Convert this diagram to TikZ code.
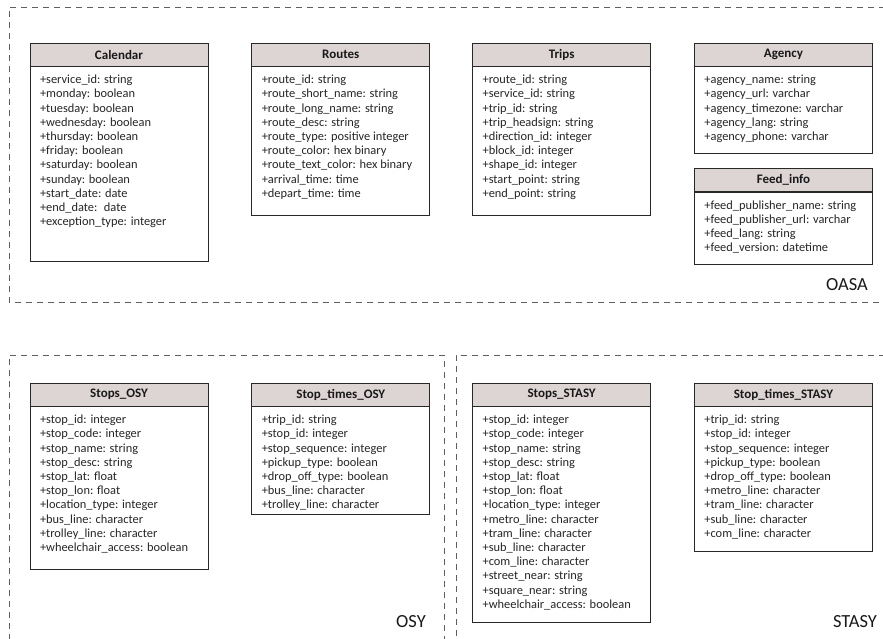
\documentclass[tikz,border=0pt]{standalone}
\usepackage{fontspec}
\setmainfont{Carlito}
\usetikzlibrary{positioning}
\definecolor{head}{RGB}{221,212,212}
\definecolor{frame}{RGB}{40,40,40}
\definecolor{group}{RGB}{95,95,95}
\tikzset{
  % table
	csthead/.style   ={draw=frame, fill=head, line width=0.8pt, minimum width=178pt, minimum height=23pt, inner sep=0pt, text=black!90, font=\fontsize{13}{15}\selectfont\bfseries},
	cstbody/.style   ={draw=frame, fill=white, line width=0.8pt, inner xsep=10pt, inner ysep=7pt, align=left, text=black!85, font=\fontsize{12.4}{14.2}\selectfont},
  % group
	cstgroup/.style  ={draw=group, line width=0.9pt, dash pattern=on 6pt off 5pt},
	cstlabel/.style  ={text=black!90, font=\fontsize{18.5}{21}\selectfont}
}
% fixed height field list
\newcommand\fields[2]{\parbox[t][\dimexpr#1pt-14pt\relax][t]{158pt}{\begin{tabular}[t]{@{}l@{}}#2\end{tabular}}}
\begin{document}
\begin{tikzpicture}[x=1pt,y=-1pt]
	\useasboundingbox (0,0) rectangle (883,638);
	% groups
	\draw[cstgroup] (885,7) -- (9,7) -- (9,302) -- (885,302);
	\draw[cstgroup] (9,640) -- (9,355) -- (444,355) -- (444,640);
	\draw[cstgroup] (885,355) -- (456,355) -- (456,640);
	\node[cstlabel] (oasa) at (847,285) {OASA};
	\node[cstlabel] (osy) at (411,622) {OSY};
	\node[cstlabel] (stasy) at (855,622) {STASY};
	% OASA
	\node[csthead] (cal-h) at (119,54.5) {Calendar};
	\node[cstbody, below=0pt of cal-h] (cal) {\fields{195}{+service\_id: string\\+monday: boolean\\+tuesday: boolean\\+wednesday: boolean\\+thursday: boolean\\+friday: boolean\\+saturday: boolean\\+sunday: boolean\\+start\_date: date\\+end\_date: \ date\\+exception\_type: integer}};
	\node[csthead, right=43pt of cal-h] (routes-h) {Routes};
	\node[cstbody, below=0pt of routes-h] (routes) {\fields{149}{+route\_id: string\\+route\_short\_name: string\\+route\_long\_name: string\\+route\_desc: string\\+route\_type: positive integer\\+route\_color: hex binary\\+route\_text\_color: hex binary\\+arrival\_time: time\\+depart\_time: time}};
	\node[csthead, right=42pt of routes-h] (trips-h) {Trips};
	\node[cstbody, below=0pt of trips-h] (trips) {\fields{149}{+route\_id: string\\+service\_id: string\\+trip\_id: string\\+trip\_headsign: string\\+direction\_id: integer\\+block\_id: integer\\+shape\_id: integer\\+start\_point: string\\+end\_point: string}};
	\node[csthead, right=43pt of trips-h] (agency-h) {Agency};
	\node[cstbody, below=0pt of agency-h] (agency) {\fields{87}{+agency\_name: string\\+agency\_url: varchar\\+agency\_timezone: varchar\\+agency\_lang: string\\+agency\_phone: varchar}};
	\node[csthead, below=14pt of agency] (feed-h) {Feed\_info};
	\node[cstbody, below=0pt of feed-h] (feed) {\fields{72}{+feed\_publisher\_name: string\\+feed\_publisher\_url: varchar\\+feed\_lang: string\\+feed\_version: datetime}};
	% OSY
	\node[csthead] (stops-osy-h) at (119,394.5) {Stops\_OSY};
	\node[cstbody, below=0pt of stops-osy-h] (stops-osy) {\fields{163}{+stop\_id: integer\\+stop\_code: integer\\+stop\_name: string\\+stop\_desc: string\\+stop\_lat: float\\+stop\_lon: float\\+location\_type: integer\\+bus\_line: character\\+trolley\_line: character\\+wheelchair\_access: boolean}};
	\node[csthead, right=43pt of stops-osy-h] (times-osy-h) {Stop\_times\_OSY};
	\node[cstbody, below=0pt of times-osy-h] (times-osy) {\fields{108}{+trip\_id: string\\+stop\_id: integer\\+stop\_sequence: integer\\+pickup\_type: boolean\\+drop\_off\_type: boolean\\+bus\_line: character\\+trolley\_line: character}};
	% STASY
	\node[csthead, right=42pt of times-osy-h] (stops-stasy-h) {Stops\_STASY};
	\node[cstbody, below=0pt of stops-stasy-h] (stops-stasy) {\fields{216}{+stop\_id: integer\\+stop\_code: integer\\+stop\_name: string\\+stop\_desc: string\\+stop\_lat: float\\+stop\_lon: float\\+location\_type: integer\\+metro\_line: character\\+tram\_line: character\\+sub\_line: character\\+com\_line: character\\+street\_near: string\\+square\_near: string\\+wheelchair\_access: boolean}};
	\node[csthead, right=43pt of stops-stasy-h] (times-stasy-h) {Stop\_times\_STASY};
	\node[cstbody, below=0pt of times-stasy-h] (times-stasy) {\fields{145}{+trip\_id: string\\+stop\_id: integer\\+stop\_sequence: integer\\+pickup\_type: boolean\\+drop\_off\_type: boolean\\+metro\_line: character\\+tram\_line: character\\+sub\_line: character\\+com\_line: character}};
\end{tikzpicture}
\end{document}
